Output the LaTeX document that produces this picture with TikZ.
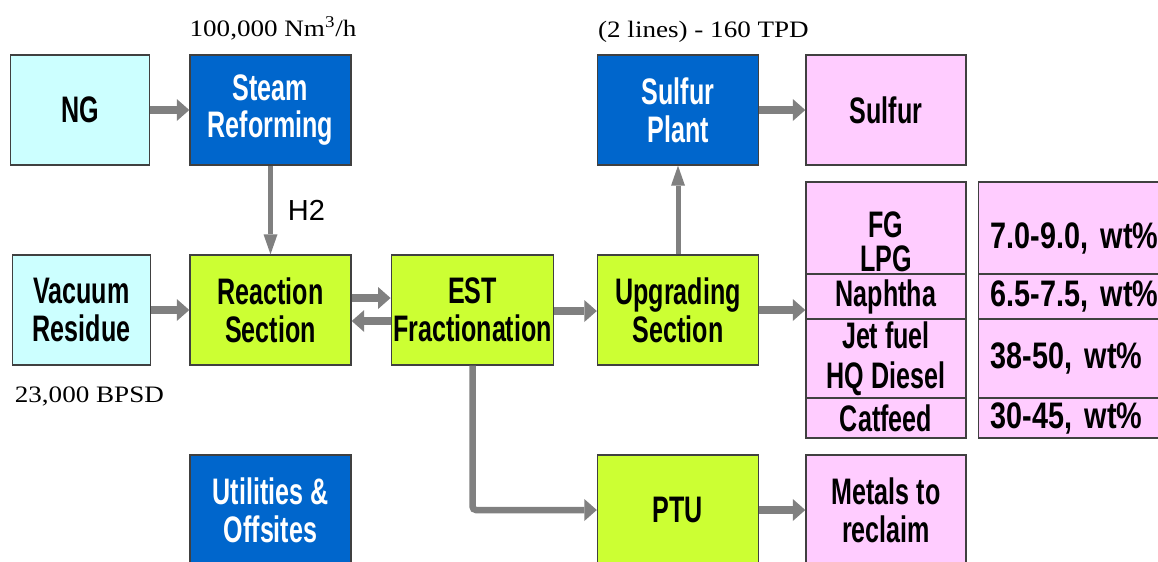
\documentclass[tikz,border=0pt]{standalone}
\usepackage{fontspec}
\setmainfont{Liberation Sans}
\newfontfamily\boitefont[FakeStretch=0.68]{Liberation Sans}
\newfontfamily\valfont[FakeStretch=0.78]{Liberation Sans}
\newfontfamily\notefont[FakeStretch=1.15]{Liberation Serif}
\usetikzlibrary{positioning, arrows.meta}
\definecolor{alim}{HTML}{CCFFFF}
\definecolor{unite}{HTML}{0066CC}
\definecolor{sect}{HTML}{CCFF33}
\definecolor{prod}{HTML}{FFCCFF}
\definecolor{gris}{HTML}{808080}
\definecolor{bord}{HTML}{404040}

\begin{document}
\begin{tikzpicture}[
  cadre/.style={draw=bord, line width=0.8pt, align=center, inner sep=1pt, minimum height=2.2cm,
                font=\boitefont\bfseries\fontsize{21pt}{21.5pt}\selectfont},
  charge/.style={cadre, fill=alim, minimum width=2.77cm},
  unit/.style={cadre, fill=unite, text=white, minimum width=3.22cm},
  reac/.style={cadre, fill=sect, minimum width=3.22cm},
  sortie/.style={cadre, fill=prod, minimum width=3.20cm},
  cellule/.style={cadre, fill=prod, minimum width=3.20cm},
  valeur/.style={cadre, fill=prod, anchor=west, align=left, inner xsep=0.24cm, text width=4.2cm,
                 font=\valfont\bfseries\fontsize{21pt}{21.5pt}\selectfont},
  note/.style={inner sep=0pt, anchor=base west, font=\notefont\fontsize{13.4pt}{15pt}\selectfont},
  lab/.style={font=\fontsize{16.5pt}{18pt}\selectfont},
  fl/.style={-{Triangle[length=0.25cm, width=0.44cm, line width=0pt]}, draw=gris, line width=0.16cm},
  flv/.style={-{Triangle[length=0.40cm, width=0.28cm, line width=0pt]}, draw=gris, line width=0.10cm},
  flb/.style={-{Triangle[length=0.25cm, width=0.44cm, line width=0pt]}, draw=gris, line width=0.13cm,
              rounded corners=2pt},
]
\useasboundingbox (0,0) rectangle (23.16,-11.22);
\clip (0,0) rectangle (23.16,-11.22);
% les charges
\node[charge] (ng) at (1.60,-2.20) {NG};
\node[charge] (vac) at (1.63,-6.20) {Vacuum\\Residue};
% les unités
\node[unit] (steam) at (5.41,-2.20) {Steam\\Reforming};
\node[reac] (react) at (5.41,-6.20) {Reaction\\Section};
\node[reac, minimum width=3.18cm] (est) at (9.45,-6.20) {EST\\Fractionation};
\node[reac] (upg) at (13.56,-6.20) {Upgrading\\Section};
\node[unit] (splant) at (13.56,-2.20) {Sulfur\\Plant};
\node[unit] (util) at (5.41,-10.20) {Utilities \&\\Offsites};
\node[reac] (ptu) at (13.56,-10.20) {PTU};
% les sorties
\node[sortie] (sulf) at (17.72,-2.20) {Sulfur};
\node[sortie] (metal) at (17.72,-10.20) {Metals to\\reclaim};
% le tableau des produits
\node[cellule, minimum height=1.84cm] (fg) at (17.72,-4.56) {\rule{0pt}{30pt}FG\\[-2pt]LPG};
\node[cellule, minimum height=0.90cm] (naph) at (17.72,-5.93) {Naphtha};
\node[cellule, minimum height=1.58cm] (jet) at (17.72,-7.17) {Jet fuel\\[1pt]HQ Diesel};
\node[cellule, minimum height=0.80cm] (cat) at (17.72,-8.36) {Catfeed};
\node[valeur, minimum height=1.84cm] (vfg) at (19.56,-4.56) {\rule{0pt}{27pt}7.0-9.0, wt\%};
\node[valeur, minimum height=0.90cm] (vnaph) at (19.56,-5.93) {6.5-7.5, wt\%};
\node[valeur, minimum height=1.58cm] (vjet) at (19.56,-7.17) {38-50, wt\%};
\node[valeur, minimum height=0.80cm] (vcat) at (19.56,-8.36) {30-45, wt\%};
% les capacités
\node[note] (debit) at ([yshift=0.36cm]steam.north west) {100,000 Nm\textsuperscript{3}/h};
\node[note] (lignes) at ([xshift=0.02cm, yshift=0.34cm]splant.north west) {(2 lines) - 160 TPD};
\node[note] (bpsd) at ([xshift=0.06cm, yshift=-0.74cm]vac.south west) {23,000 BPSD};
% flux
\draw[fl] (ng) -- (steam);
\draw[flv] (steam) -- node[lab, right=0.18cm] (h2) {H2} (react);
\draw[fl] (vac) -- (react);
\draw[fl] ([yshift=0.24cm]react.east) -- ([yshift=0.24cm]est.west);
\draw[fl] ([yshift=-0.22cm]est.west) -- ([yshift=-0.22cm]react.east);
\draw[fl] ([yshift=-0.02cm]est.east) -- ([yshift=-0.02cm]upg.west);
\draw[flv] (upg) -- (splant);
\draw[fl] (splant) -- (sulf);
\draw[fl] (upg.east) -- (upg.east -| naph.west);
\draw[flb] (est.south) |- (ptu.west);
\draw[fl] (ptu) -- (metal);
\end{tikzpicture}
\end{document}
